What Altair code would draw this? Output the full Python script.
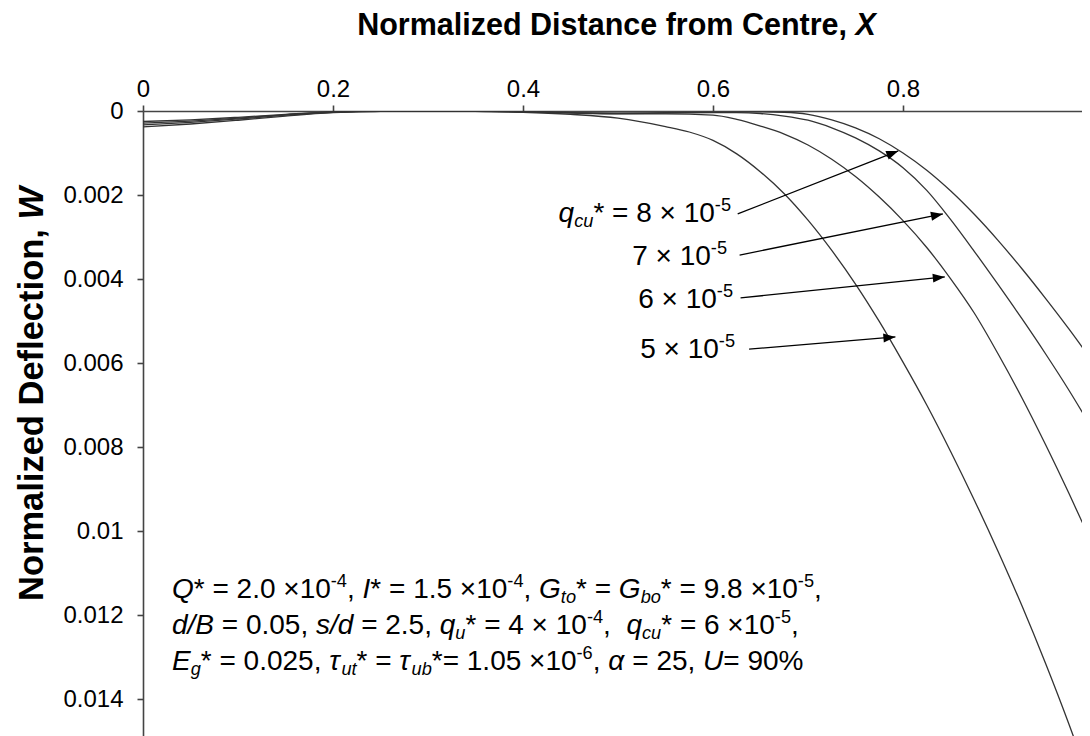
import math
import altair as alt
import pandas as pd

# ---------------- data ----------------
X_5 = [0, 0.05, 0.1, 0.15, 0.2, 0.25, 0.3, 0.35, 0.4, 0.45, 0.5, 0.55, 0.575, 0.6, 0.625, 0.65, 0.675, 0.7,
       0.725, 0.75, 0.775, 0.8, 0.825, 0.85, 0.875, 0.9, 0.925, 0.95, 0.975, 1.0]
W_5 = [0.00038, 0.00031, 0.00022, 0.00012, 0.00004, 0.00001, 0.0, 0.00001, 0.00003, 0.00008, 0.00017, 0.00037,
       0.0005, 0.0007, 0.00102, 0.00145, 0.00197, 0.0026, 0.00332, 0.00412, 0.00501, 0.00598, 0.0070, 0.0081,
       0.00926, 0.01048, 0.01177, 0.01315, 0.01462, 0.0162]

X_6 = [0, 0.05, 0.1, 0.15, 0.2, 0.25, 0.3, 0.35, 0.4, 0.45, 0.5, 0.55, 0.6, 0.625, 0.65, 0.675, 0.7, 0.725,
       0.75, 0.775, 0.8, 0.825, 0.85, 0.875, 0.9, 0.925, 0.95, 0.975, 1.0]
W_6 = [0.00033, 0.00027, 0.00019, 0.0001, 0.00003, 0.0, 0.0, 0.0, 0.00002, 0.00005, 0.00007, 0.00007, 0.0001,
       0.0002, 0.00036, 0.00055, 0.00081, 0.00115, 0.00156, 0.00205, 0.00261, 0.00325, 0.00399, 0.00481,
       0.00578, 0.00682, 0.00794, 0.00912, 0.01035]

X_7 = [0, 0.05, 0.1, 0.15, 0.2, 0.25, 0.3, 0.35, 0.4, 0.45, 0.5, 0.55, 0.6, 0.625, 0.65, 0.675, 0.7, 0.725,
       0.75, 0.775, 0.8, 0.825, 0.85, 0.875, 0.9, 0.925, 0.95, 0.975, 1.0]
W_7 = [0.00029, 0.00024, 0.00017, 0.00009, 0.00002, 0.0, 0.0, 0.0, 0.00002, 0.00004, 0.00006, 0.00005, 0.00004,
       0.00004, 0.00006, 0.00012, 0.00022, 0.0004, 0.00064, 0.00095, 0.00135, 0.00189, 0.00258, 0.00334,
       0.00413, 0.00494, 0.00578, 0.00666, 0.0076]

X_8 = [0, 0.05, 0.1, 0.15, 0.2, 0.25, 0.3, 0.35, 0.4, 0.45, 0.5, 0.55, 0.6, 0.65, 0.675, 0.7, 0.725, 0.75,
       0.775, 0.8, 0.825, 0.85, 0.875, 0.9, 0.925, 0.95, 0.975, 1.0]
W_8 = [0.00025, 0.00021, 0.00015, 0.00008, 0.00002, 0.0, 0.0, 0.0, 0.00002, 0.00004, 0.00005, 0.00004, 0.00003,
       0.00002, 0.00003, 0.00008, 0.00021, 0.0004, 0.00066, 0.001, 0.00141, 0.0019, 0.00246, 0.00308, 0.00375,
       0.00446, 0.0052, 0.00598]

SERIES = ["8e-5", "7e-5", "6e-5", "5e-5"]
X_TICKS = [0, 0.2, 0.4, 0.6, 0.8]
Y_TICKS = [0, 0.002, 0.004, 0.006, 0.008, 0.01, 0.012, 0.014]

# arrows (data coordinates): start -> tip
AR_X1 = [0.626, 0.628, 0.629, 0.638]
AR_W1 = [0.00245, 0.00343, 0.00445, 0.00567]
AR_X2 = [0.795, 0.842, 0.844, 0.792]
AR_W2 = [0.00095, 0.00245, 0.00395, 0.00538]

# ---------------- layout ----------------
PXU = 950.0      # pixels per unit X
PWU = 42000.0    # pixels per unit W
PW = 939         # visible plot width (fits the page)
PH = 672
XD = [0, PW / PXU]
YD = [0, PH / PWU]
FONT = "Liberation Sans"
AXC = "#444444"
LINEC = "#333333"

REG = {' ': 278, '%': 889, '*': 389, ',': 278, '-': 333, '.': 278, '/': 278, '=': 584, '×': 584,
       'B': 667, 'E': 667, 'G': 778, 'I': 278, 'Q': 778, 'U': 722, 'a': 556, 'b': 556, 'c': 500,
       'd': 556, 'g': 556, 'o': 556, 'q': 556, 's': 500, 't': 278, 'u': 556, 'τ': 434, 'α': 578}
BOLD = {'N': 722, 'o': 611, 'r': 389, 'm': 889, 'a': 556, 'l': 278, 'i': 278, 'z': 500, 'e': 556,
        'd': 611, ' ': 278, 'D': 722, 's': 556, 't': 333, 'n': 611, 'c': 556, 'f': 333, 'C': 722,
        ',': 278, 'X': 667, 'W': 944}


def width(txt, fs, bold=False):
    tab = BOLD if bold else REG
    return sum(tab.get(ch, 556) for ch in txt) / 1000.0 * fs


SMALL = 0.65


def layout(runs, x0, y0, F, anchor="left"):
    pieces = []
    x = 0.0
    for txt, st in runs:
        fs = F * SMALL if st in ("sup", "subi") else F
        dy = -0.38 * F if st == "sup" else (0.18 * F if st == "subi" else 0)
        style = "i" if st in ("i", "subi") else "n"
        lead = len(txt) - len(txt.lstrip(" "))
        core = txt.strip(" ")
        if core:
            pieces.append((x + width(" " * lead, fs), dy, core, fs, style))
        x += width(txt, fs)
    shift = -x if anchor == "right" else 0
    return [{"px": x0 + px + shift, "py": y0 + dy, "t": t, "fs": fs, "st": s, "ang": 0}
            for px, dy, t, fs, s in pieces]


rows = []
F = 28
L1 = [("Q", "i"), ("* = 2.0 ×10", "n"), ("-4", "sup"), (", ", "n"), ("I", "i"), ("* = 1.5 ×10", "n"),
      ("-4", "sup"), (", ", "n"), ("G", "i"), ("to", "subi"), ("* = ", "n"), ("G", "i"), ("bo", "subi"),
      ("* = 9.8 ×10", "n"), ("-5", "sup"), (",", "n")]
L2 = [("d/B", "i"), (" = 0.05, ", "n"), ("s/d", "i"), (" = 2.5, ", "n"), ("q", "i"), ("u", "subi"),
      ("* = 4 × 10", "n"), ("-4", "sup"), (",  ", "n"), ("q", "i"), ("cu", "subi"), ("* = 6 ×10", "n"),
      ("-5", "sup"), (",", "n")]
L3 = [("E", "i"), ("g", "subi"), ("* = 0.025, ", "n"), ("τ", "i"), ("ut", "subi"), ("* = ", "n"),
      ("τ", "i"), ("ub", "subi"), ("*= 1.05 ×10", "n"), ("-6", "sup"), (", ", "n"), ("α", "i"),
      (" = 25, ", "n"), ("U", "i"), ("= 90%", "n")]
rows += layout(L1, 29, 487, F)
rows += layout(L2, 29, 523, F)
rows += layout(L3, 29, 559, F)

A8 = [("q", "i"), ("cu", "subi"), ("* = 8 × 10", "n"), ("-5", "sup")]
A7 = [("7 × 10", "n"), ("-5", "sup")]
A6 = [("6 × 10", "n"), ("-5", "sup")]
A5 = [("5 × 10", "n"), ("-5", "sup")]
rows += layout(A8, 588, 111, F, "right")
rows += layout(A7, 584, 154, F, "right")
rows += layout(A6, 590, 197, F, "right")
rows += layout(A5, 592, 247, F, "right")

# axis titles (bold, last letter bold italic)
TF = 30.5
t1 = "Normalized Distance from Centre,"
xw = width(t1 + " ", TF, True) + width("X", TF, True)
tx0 = 473.5 - xw / 2
rows.append({"px": tx0, "py": -76, "t": t1, "fs": TF, "st": "b", "ang": 0})
rows.append({"px": tx0 + width(t1 + " ", TF, True), "py": -76, "t": "X", "fs": TF, "st": "bi", "ang": 0})
YF = 34.5
t2 = "Normalized Deflection,"
yw = width(t2 + " ", YF, True) + width("W", YF, True)
ty0 = 283 + yw / 2
rows.append({"px": -100, "py": ty0, "t": t2, "fs": YF, "st": "b", "ang": 270})
rows.append({"px": -100, "py": ty0 - width(t2 + " ", YF, True), "t": "W", "fs": YF, "st": "bi", "ang": 270})

txt_df = pd.DataFrame(rows)

# ---------------- curves ----------------
frames = []
for name, xs, ws in zip(SERIES, [X_8, X_7, X_6, X_5], [W_8, W_7, W_6, W_5]):
    frames.append(pd.DataFrame({"X": xs, "W": ws, "s": name}))
curves = pd.concat(frames, ignore_index=True)

xscale = alt.Scale(domain=XD, nice=False, zero=False)
yscale = alt.Scale(domain=YD, reverse=True, nice=False)

base_line = alt.Chart(curves).mark_line(color=LINEC, strokeWidth=1.3, clip=True, interpolate="monotone").encode(
    x=alt.X("X:Q", scale=xscale, axis=alt.Axis(
        orient="top", values=X_TICKS, format=".1~f", labelFontSize=24, labelFont=FONT, labelColor="black",
        tickSize=6, tickColor=AXC, tickWidth=1.6, domainColor=AXC, domainWidth=1.6, labelPadding=4,
        grid=False, labelFlush=False, labelOverlap=False), title=None),
    y=alt.Y("W:Q", scale=yscale, axis=alt.Axis(
        values=Y_TICKS, format=".3~f", labelFontSize=24, labelFont=FONT, labelColor="black",
        tickSize=6, tickColor=AXC, tickWidth=1.6, domainColor=AXC, domainWidth=1.6, labelPadding=14,
        grid=False, labelFlush=False, labelOverlap=False), title=None),
    detail="s:N",
)

arr = pd.DataFrame({"x1": AR_X1, "w1": AR_W1, "x2": AR_X2, "w2": AR_W2})
arr["ang"] = [
    math.degrees(math.atan2((b2 - b1) * PWU, (a2 - a1) * PXU)) % 360
    for a1, b1, a2, b2 in zip(AR_X1, AR_W1, AR_X2, AR_W2)
]

rules = alt.Chart(arr).mark_rule(color="black", strokeWidth=1.3).encode(
    x=alt.X("x1:Q", scale=xscale), y=alt.Y("w1:Q", scale=yscale), x2="x2:Q", y2="w2:Q")
heads = alt.Chart(arr).mark_point(
    shape="M0,0L-2,-0.75L-2,0.75Z", filled=True, color="black", opacity=1, size=144, strokeWidth=0
).encode(x=alt.X("x2:Q", scale=xscale), y=alt.Y("w2:Q", scale=yscale),
         angle=alt.Angle("ang:Q", scale=None))

layers = [base_line, rules, heads]
for st, fstyle, fweight in [("n", "normal", "normal"), ("i", "italic", "normal"),
                            ("b", "normal", "bold"), ("bi", "italic", "bold")]:
    sub = txt_df[txt_df["st"] == st]
    layers.append(
        alt.Chart(sub).mark_text(align="left", baseline="alphabetic", font=FONT, fontStyle=fstyle,
                                 fontWeight=fweight, color="black").encode(
            x=alt.X("px:Q", scale=None, axis=None),
            y=alt.Y("py:Q", scale=None, axis=None),
            text="t:N",
            size=alt.Size("fs:Q", scale=None, legend=None),
            angle=alt.Angle("ang:Q", scale=None),
        )
    )

chart = alt.layer(*layers).properties(
    width=PW, height=PH,
    padding={"left": 135, "top": 103, "right": 0, "bottom": 0},
    autosize=alt.AutoSizeParams(type="none"),
).configure_view(strokeWidth=0).configure(background="white")

chart.save("out.html", embed_options={"renderer": "svg", "actions": False})
